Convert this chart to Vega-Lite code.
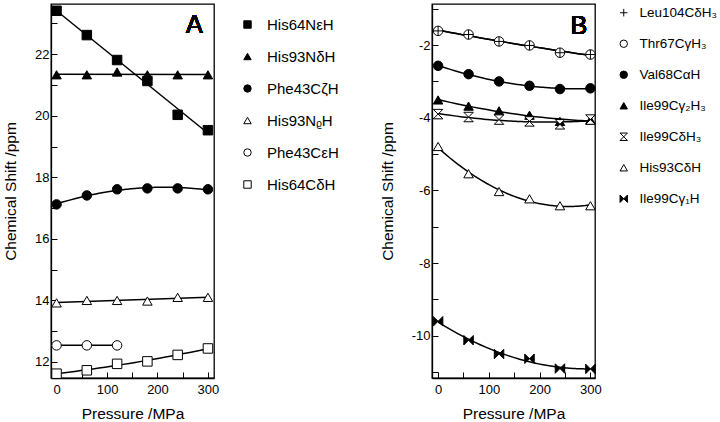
{
  "$schema": "https://vega.github.io/schema/vega-lite/v6.json",
  "padding": {"left": 2, "top": 3, "right": 0, "bottom": 0},
  "config": {
    "font": "Liberation Sans",
    "view": {"stroke": "black", "strokeWidth": 1.3},
    "axis": {"grid": false, "domainColor": "black", "domainWidth": 1.3, "tickColor": "black", "tickWidth": 1, "tickSize": -6, "labelPadding": 8, "labelColor": "black", "titleColor": "black", "labelFontSize": 13, "titleFontSize": 15.5, "titleFontWeight": "normal", "labelFont": "Liberation Sans", "titleFont": "Liberation Sans"},
    "axisX": {"labelPadding": 11, "titlePadding": 10},
    "axisY": {"titlePadding": 16},
    "legend": {"labelColor": "black", "labelFont": "Liberation Sans", "symbolStrokeWidth": 1, "symbolSize": 55}
  },
  "datasets": {
    "a": [
      {"series": "His64NεH", "p": 0, "cs": 23.41}, {"series": "His64NεH", "p": 60, "cs": 22.62}, {"series": "His64NεH", "p": 120, "cs": 21.81}, {"series": "His64NεH", "p": 180, "cs": 21.13}, {"series": "His64NεH", "p": 240, "cs": 20.03}, {"series": "His64NεH", "p": 300, "cs": 19.53},
      {"series": "His93NδH", "p": 0, "cs": 21.33}, {"series": "His93NδH", "p": 60, "cs": 21.33}, {"series": "His93NδH", "p": 120, "cs": 21.42}, {"series": "His93NδH", "p": 180, "cs": 21.33}, {"series": "His93NδH", "p": 240, "cs": 21.33}, {"series": "His93NδH", "p": 300, "cs": 21.33},
      {"series": "Phe43CζH", "p": 0, "cs": 17.12}, {"series": "Phe43CζH", "p": 60, "cs": 17.41}, {"series": "Phe43CζH", "p": 120, "cs": 17.61}, {"series": "Phe43CζH", "p": 180, "cs": 17.64}, {"series": "Phe43CζH", "p": 240, "cs": 17.64}, {"series": "Phe43CζH", "p": 300, "cs": 17.61},
      {"series": "His93NᵨH", "p": 0, "cs": 13.92}, {"series": "His93NᵨH", "p": 60, "cs": 14.0}, {"series": "His93NᵨH", "p": 120, "cs": 14.0}, {"series": "His93NᵨH", "p": 180, "cs": 13.98}, {"series": "His93NᵨH", "p": 240, "cs": 14.1}, {"series": "His93NᵨH", "p": 300, "cs": 14.1},
      {"series": "Phe43CεH", "p": 0, "cs": 12.54}, {"series": "Phe43CεH", "p": 60, "cs": 12.54}, {"series": "Phe43CεH", "p": 120, "cs": 12.54},
      {"series": "His64CδH", "p": 0, "cs": 11.62}, {"series": "His64CδH", "p": 60, "cs": 11.73}, {"series": "His64CδH", "p": 120, "cs": 11.94}, {"series": "His64CδH", "p": 180, "cs": 12.02}, {"series": "His64CδH", "p": 240, "cs": 12.23}, {"series": "His64CδH", "p": 300, "cs": 12.44}
    ],
    "b": [
      {"series": "Thr67CγH₃", "p": 0, "cs": -1.61}, {"series": "Thr67CγH₃", "p": 60, "cs": -1.71}, {"series": "Thr67CγH₃", "p": 120, "cs": -1.9}, {"series": "Thr67CγH₃", "p": 180, "cs": -2.01}, {"series": "Thr67CγH₃", "p": 240, "cs": -2.21}, {"series": "Thr67CγH₃", "p": 300, "cs": -2.26},
      {"series": "Leu104CδH₃", "p": 0, "cs": -1.61}, {"series": "Leu104CδH₃", "p": 60, "cs": -1.71}, {"series": "Leu104CδH₃", "p": 120, "cs": -1.9}, {"series": "Leu104CδH₃", "p": 180, "cs": -2.01}, {"series": "Leu104CδH₃", "p": 240, "cs": -2.21}, {"series": "Leu104CδH₃", "p": 300, "cs": -2.26},
      {"series": "Val68CαH", "p": 0, "cs": -2.57}, {"series": "Val68CαH", "p": 60, "cs": -2.8}, {"series": "Val68CαH", "p": 120, "cs": -3.0}, {"series": "Val68CαH", "p": 180, "cs": -3.12}, {"series": "Val68CαH", "p": 240, "cs": -3.21}, {"series": "Val68CαH", "p": 300, "cs": -3.19},
      {"series": "Ile99Cγ₂H₃", "p": 0, "cs": -3.51}, {"series": "Ile99Cγ₂H₃", "p": 60, "cs": -3.68}, {"series": "Ile99Cγ₂H₃", "p": 120, "cs": -3.81}, {"series": "Ile99Cγ₂H₃", "p": 180, "cs": -3.93}, {"series": "Ile99Cγ₂H₃", "p": 240, "cs": -4.1}, {"series": "Ile99Cγ₂H₃", "p": 300, "cs": -4.06},
      {"series": "Ile99CδH₃", "p": 0, "cs": -3.9}, {"series": "Ile99CδH₃", "p": 60, "cs": -3.98}, {"series": "Ile99CδH₃", "p": 120, "cs": -4.05}, {"series": "Ile99CδH₃", "p": 180, "cs": -4.1}, {"series": "Ile99CδH₃", "p": 240, "cs": -4.18}, {"series": "Ile99CδH₃", "p": 300, "cs": -4.05},
      {"series": "His93CδH", "p": 0, "cs": -4.79}, {"series": "His93CδH", "p": 60, "cs": -5.54}, {"series": "His93CδH", "p": 120, "cs": -6.03}, {"series": "His93CδH", "p": 180, "cs": -6.23}, {"series": "His93CδH", "p": 240, "cs": -6.42}, {"series": "His93CδH", "p": 300, "cs": -6.42},
      {"series": "Ile99Cγ₁H", "p": 0, "cs": -9.6}, {"series": "Ile99Cγ₁H", "p": 60, "cs": -10.12}, {"series": "Ile99Cγ₁H", "p": 120, "cs": -10.5}, {"series": "Ile99Cγ₁H", "p": 180, "cs": -10.63}, {"series": "Ile99Cγ₁H", "p": 240, "cs": -10.9}, {"series": "Ile99Cγ₁H", "p": 300, "cs": -10.91}
    ]
  },
  "spacing": 26,
  "resolve": {"scale": {"x": "independent", "y": "independent", "shape": "independent", "fill": "independent", "stroke": "independent"}, "legend": {"shape": "independent", "fill": "independent", "stroke": "independent"}},
  "hconcat": [
    {
      "width": 163,
      "height": 374,
      "data": {"name": "a"},
      "encoding": {
        "x": {"field": "p", "type": "quantitative", "scale": {"domain": [-11, 312], "nice": false, "zero": false}, "axis": {"title": "Pressure /MPa", "values": [0, 50, 100, 150, 200, 250, 300], "labelExpr": "datum.value % 100 === 0 ? datum.label : ''"}},
        "y": {"field": "cs", "type": "quantitative", "scale": {"domain": [11.48, 23.63], "nice": false, "zero": false}, "axis": {"title": "Chemical Shift /ppm", "values": [12, 13, 14, 15, 16, 17, 18, 19, 20, 21, 22, 23], "labelExpr": "datum.value % 2 === 0 ? datum.label : ''"}}
      },
      "layer": [
        {
          "transform": [{"filter": {"field": "series", "oneOf": ["His64NεH", "His93NδH", "His93NᵨH", "Phe43CεH"]}}, {"regression": "cs", "on": "p", "groupby": ["series"]}],
          "mark": {"type": "line", "color": "black", "strokeWidth": 1.5},
          "encoding": {"detail": {"field": "series"}}
        },
        {
          "transform": [{"filter": {"not": {"field": "series", "oneOf": ["His64NεH", "His93NδH", "His93NᵨH", "Phe43CεH"]}}}, {"regression": "cs", "on": "p", "groupby": ["series"], "method": "poly", "order": 2}],
          "mark": {"type": "line", "color": "black", "strokeWidth": 1.5},
          "encoding": {"detail": {"field": "series"}}
        },
        {
          "mark": {"type": "point", "size": 90, "strokeWidth": 1, "opacity": 1},
          "encoding": {
            "shape": {"field": "series", "type": "nominal", "scale": {"domain": ["His64NεH", "His93NδH", "Phe43CζH", "His93NᵨH", "Phe43CεH", "His64CδH"], "range": ["square", "triangle-up", "circle", "triangle-up", "circle", "square"]}, "legend": {"title": null, "orient": "right", "offset": 13, "padding": 13, "rowPadding": 16, "labelOffset": 12, "labelFontSize": 15}},
            "fill": {"field": "series", "type": "nominal", "scale": {"domain": ["His64NεH", "His93NδH", "Phe43CζH", "His93NᵨH", "Phe43CεH", "His64CδH"], "range": ["black", "black", "black", "white", "white", "white"]}, "legend": {"title": null, "orient": "right", "offset": 13, "padding": 13, "rowPadding": 16, "labelOffset": 12, "labelFontSize": 15}},
            "stroke": {"field": "series", "type": "nominal", "scale": {"domain": ["His64NεH", "His93NδH", "Phe43CζH", "His93NᵨH", "Phe43CεH", "His64CδH"], "range": ["black", "black", "black", "black", "black", "black"]}, "legend": {"title": null, "orient": "right", "offset": 13, "padding": 13, "rowPadding": 16, "labelOffset": 12, "labelFontSize": 15}}
          }
        },
        {
          "mark": {"type": "text", "fontSize": 25, "fontWeight": "normal", "font": "Liberation Sans", "color": "black"},
          "encoding": {"x": {"datum": 273}, "y": {"datum": 22.95}, "text": {"value": "A"}}
        }
      ]
    },
    {
      "width": 163,
      "height": 374,
      "data": {"name": "b"},
      "encoding": {
        "x": {"field": "p", "type": "quantitative", "scale": {"domain": [-12, 309], "nice": false, "zero": false}, "axis": {"title": "Pressure /MPa", "values": [0, 50, 100, 150, 200, 250, 300], "labelExpr": "datum.value % 100 === 0 ? datum.label : ''"}},
        "y": {"field": "cs", "type": "quantitative", "scale": {"domain": [-11.16, -0.87], "nice": false, "zero": false}, "axis": {"title": "Chemical Shift /ppm", "values": [-11, -10, -9, -8, -7, -6, -5, -4, -3, -2, -1], "labelExpr": "datum.value % 2 === 0 ? '-' + abs(datum.value) : ''"}}
      },
      "layer": [
        {
          "transform": [{"regression": "cs", "on": "p", "groupby": ["series"], "method": "poly", "order": 2}],
          "mark": {"type": "line", "color": "black", "strokeWidth": 1.5},
          "encoding": {"detail": {"field": "series"}}
        },
        {
          "mark": {"type": "point", "size": 90, "strokeWidth": 1, "opacity": 1},
          "encoding": {
            "shape": {"field": "series", "type": "nominal", "scale": {"domain": ["Leu104CδH₃", "Thr67CγH₃", "Val68CαH", "Ile99Cγ₂H₃", "Ile99CδH₃", "His93CδH", "Ile99Cγ₁H"], "range": ["M-1,0H1M0,-1V1", "circle", "circle", "triangle-up", "M-1,-1H1L-1,1H1Z", "triangle-up", "M-1,-1L1,1V-1L-1,1Z"]}, "legend": {"title": null, "orient": "right", "offset": 20, "padding": 2, "rowPadding": 16, "labelOffset": 9, "labelFontSize": 13.5}},
            "fill": {"field": "series", "type": "nominal", "scale": {"domain": ["Leu104CδH₃", "Thr67CγH₃", "Val68CαH", "Ile99Cγ₂H₃", "Ile99CδH₃", "His93CδH", "Ile99Cγ₁H"], "range": ["black", "white", "black", "black", "white", "white", "black"]}, "legend": {"title": null, "orient": "right", "offset": 20, "padding": 2, "rowPadding": 16, "labelOffset": 9, "labelFontSize": 13.5}},
            "stroke": {"field": "series", "type": "nominal", "scale": {"domain": ["Leu104CδH₃", "Thr67CγH₃", "Val68CαH", "Ile99Cγ₂H₃", "Ile99CδH₃", "His93CδH", "Ile99Cγ₁H"], "range": ["black", "black", "black", "black", "black", "black", "black"]}, "legend": {"title": null, "orient": "right", "offset": 20, "padding": 2, "rowPadding": 16, "labelOffset": 9, "labelFontSize": 13.5}}
          }
        },
        {
          "mark": {"type": "text", "fontSize": 25, "fontWeight": "normal", "font": "Liberation Sans", "color": "black"},
          "encoding": {"x": {"datum": 277}, "y": {"datum": -1.47}, "text": {"value": "B"}}
        }
      ]
    }
  ]
}
